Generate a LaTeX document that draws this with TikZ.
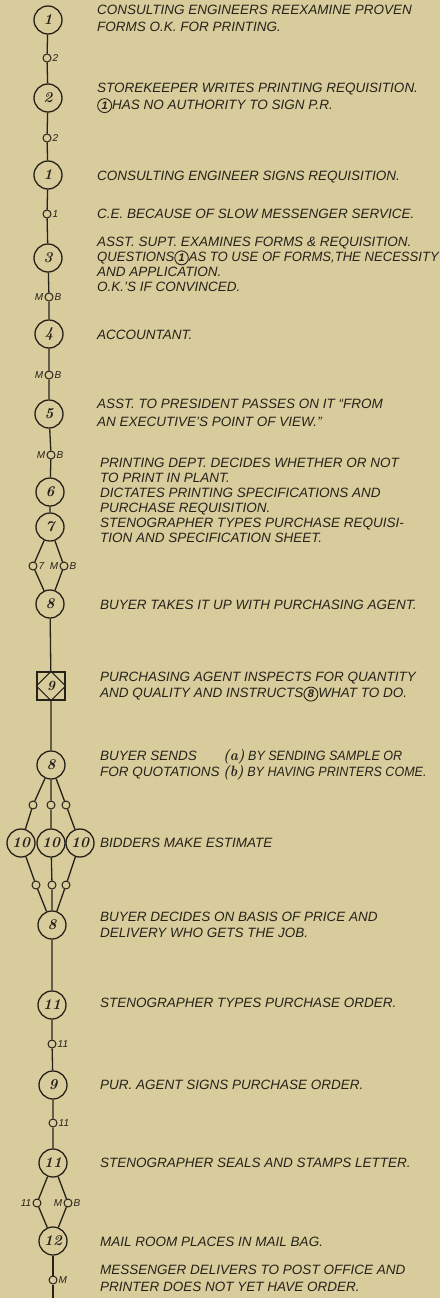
\documentclass[tikz,border=0pt]{standalone}
\usepackage{fontspec}
\newfontfamily\handfont{Liberation Sans}
\usetikzlibrary{positioning}
\definecolor{paper}{HTML}{D8CC9C}
\definecolor{ink}{HTML}{26221A}
\tikzset{
  station/.style={circle,draw=ink,line width=1.3pt,minimum size=28pt,inner sep=0pt,
    font=\bfseries\itshape\fontsize{15}{15}\selectfont,text=ink},
  joint/.style={circle,draw=ink,line width=1pt,minimum size=8pt,inner sep=0pt},
  mlabel/.style={font=\handfont\itshape\fontsize{10}{10}\selectfont,text=ink,inner sep=1pt},
  note/.style={anchor=west,align=left,text=ink,inner sep=0pt,
    font=\handfont\itshape\fontsize{13.5}{#1}\selectfont},
  note/.default=15,
  flow/.style={draw=ink,line width=1.3pt},
}
\newcommand\cnum[1]{\tikz[baseline=(cn.base)]\node[circle,draw=ink,line width=0.9pt,
  inner sep=0pt,minimum size=14pt,font=\bfseries\itshape\fontsize{11}{11}\selectfont] (cn) {#1};}
\newcommand\sublet[1]{{\normalfont\bfseries\itshape\fontsize{15}{15}\selectfont(#1)}}
\begin{document}
\begin{tikzpicture}[x=1pt,y=-1pt]
\fill[paper] (0,0) rectangle (440,1298);
\useasboundingbox (0,0) rectangle (440,1298);
% stations on the spine
\node[station] (s1) at (48,20) {1};
\node[joint,label={[mlabel]right:2}] (j1) at (47,58) {};
\node[station] (s2) at (48,98) {2};
\node[joint,label={[mlabel]right:2}] (j2) at (47,138) {};
\node[station] (s3) at (48,175) {1};
\node[joint,label={[mlabel]right:1}] (j3) at (47,214) {};
\node[station] (s4) at (48,258) {3};
\node[joint,label={[mlabel]left:M},label={[mlabel]right:B}] (j4) at (49,297) {};
\node[station] (s5) at (49,334) {4};
\node[joint,label={[mlabel]left:M},label={[mlabel]right:B}] (j5) at (49,375) {};
\node[station] (s6) at (49,414) {5};
\node[joint,label={[mlabel]left:M},label={[mlabel]right:B}] (j6) at (51,455) {};
\node[station] (s7) at (50,492) {6};
\node[station] (s8) at (50,527) {7};
\node[joint,label={[mlabel]right:7}] (j7a) at (33,566) {};
\node[joint,label={[mlabel]left:M},label={[mlabel]right:B}] (j7b) at (64,566) {};
\node[station] (s9) at (50,604) {8};
\node[draw=ink,line width=1.3pt,minimum size=28pt,inner sep=0pt,
  font=\bfseries\itshape\fontsize{14}{14}\selectfont,text=ink] (s10) at (51,686) {9};
\draw[ink,line width=1.1pt] (s10.north) -- (s10.east) -- (s10.south) -- (s10.west) -- cycle;
\node[station] (s11) at (51,765) {8};
% bidders
\node[joint] (f1) at (33,805) {};
\node[joint] (f2) at (51,805) {};
\node[joint] (f3) at (66,805) {};
\node[station] (b1) at (21,843) {10};
\node[station] (b2) at (51,843) {10};
\node[station] (b3) at (80,843) {10};
\node[joint] (g1) at (36,885) {};
\node[joint] (g2) at (52,885) {};
\node[joint] (g3) at (66,885) {};
\node[station] (s12) at (52,925) {8};
\node[station] (s13) at (52,1005) {11};
\node[joint,label={[mlabel]right:11}] (j8) at (52,1044) {};
\node[station] (s14) at (53,1085) {9};
\node[joint,label={[mlabel]right:11}] (j9) at (53,1123) {};
\node[station] (s15) at (53,1163) {11};
\node[joint,label={[mlabel]left:11}] (j10a) at (37,1203) {};
\node[joint,label={[mlabel]left:M},label={[mlabel]right:B}] (j10b) at (68,1203) {};
\node[station] (s16) at (53,1241) {12};
\node[joint,label={[mlabel]right:M}] (j11) at (53,1280) {};
\coordinate (end) at (53,1300);
% connectors
\draw[flow] (s1) -- (j1) -- (s2) -- (j2) -- (s3) -- (j3) -- (s4) -- (j4) -- (s5)
  -- (j5) -- (s6) -- (j6) -- (s7) -- (s8);
\draw[flow] (s8) -- (j7a) -- (s9);
\draw[flow] (s8) -- (j7b) -- (s9);
\draw[flow] (s9) -- (s10) -- (s11);
\foreach \f/\b/\g in {f1/b1/g1,f2/b2/g2,f3/b3/g3}
  \draw[flow] (s11) -- (\f) -- (\b) -- (\g) -- (s12);
\draw[flow] (s12) -- (s13) -- (j8) -- (s14) -- (j9) -- (s15);
\draw[flow] (s15) -- (j10a) -- (s16);
\draw[flow] (s15) -- (j10b) -- (s16);
\draw[flow] (s16) -- (j11) -- (end);
% notes
\node[note=17] (t1) at (97,18.5) {CONSULTING ENGINEERS REEXAMINE PROVEN\\FORMS O.K. FOR PRINTING.};
\node[note=17] (t2) at (97,98) {STOREKEEPER WRITES PRINTING REQUISITION.\\\cnum{1}HAS NO AUTHORITY TO SIGN P.R.};
\node[note] (t3) at (97,177) {CONSULTING ENGINEER SIGNS REQUISITION.};
\node[note] (t4) at (97,214) {C.E. BECAUSE OF SLOW MESSENGER SERVICE.};
\node[note] (t5) at (97,264.5) {ASST. SUPT. EXAMINES FORMS \& REQUISITION.\\\scalebox{0.97}[1]{QUESTIONS\cnum{1}AS TO USE OF FORMS,THE NECESSITY}\\AND APPLICATION.\\O.K.’S IF CONVINCED.};
\node[note] (t6) at (97,335) {ACCOUNTANT.};
\node[note=18] (t7) at (97,413) {ASST. TO PRESIDENT PASSES ON IT “FROM\\AN EXECUTIVE’S POINT OF VIEW.”};
\node[note] (t8) at (100,500.5) {PRINTING DEPT. DECIDES WHETHER OR NOT\\TO PRINT IN PLANT.\\DICTATES PRINTING SPECIFICATIONS AND\\PURCHASE REQUISITION.\\STENOGRAPHER TYPES PURCHASE REQUISI-\\TION AND SPECIFICATION SHEET.};
\node[note] (t9) at (100,605) {BUYER TAKES IT UP WITH PURCHASING AGENT.};
\node[note=16] (t10) at (100,687) {PURCHASING AGENT INSPECTS FOR QUANTITY\\AND QUALITY AND INSTRUCTS\cnum{8}WHAT TO DO.};
\node[note=16] (t11) at (100,765) {BUYER SENDS\\FOR QUOTATIONS};
\node[note=16] (t11b) at (223,765) {\scalebox{0.93}[1]{\sublet{a} BY SENDING SAMPLE OR}\\\scalebox{0.93}[1]{\sublet{b} BY HAVING PRINTERS COME.}};
\node[note] (t12) at (100,843) {BIDDERS MAKE ESTIMATE};
\node[note=16] (t13) at (100,925) {BUYER DECIDES ON BASIS OF PRICE AND\\DELIVERY WHO GETS THE JOB.};
\node[note] (t14) at (100,1003) {STENOGRAPHER TYPES PURCHASE ORDER.};
\node[note] (t15) at (100,1085) {PUR. AGENT SIGNS PURCHASE ORDER.};
\node[note] (t16) at (100,1163) {STENOGRAPHER SEALS AND STAMPS LETTER.};
\node[note] (t17) at (100,1242) {MAIL ROOM PLACES IN MAIL BAG.};
\node[note=17] (t18) at (100,1278.5) {MESSENGER DELIVERS TO POST OFFICE AND\\PRINTER DOES NOT YET HAVE ORDER.};
\end{tikzpicture}
\end{document}
